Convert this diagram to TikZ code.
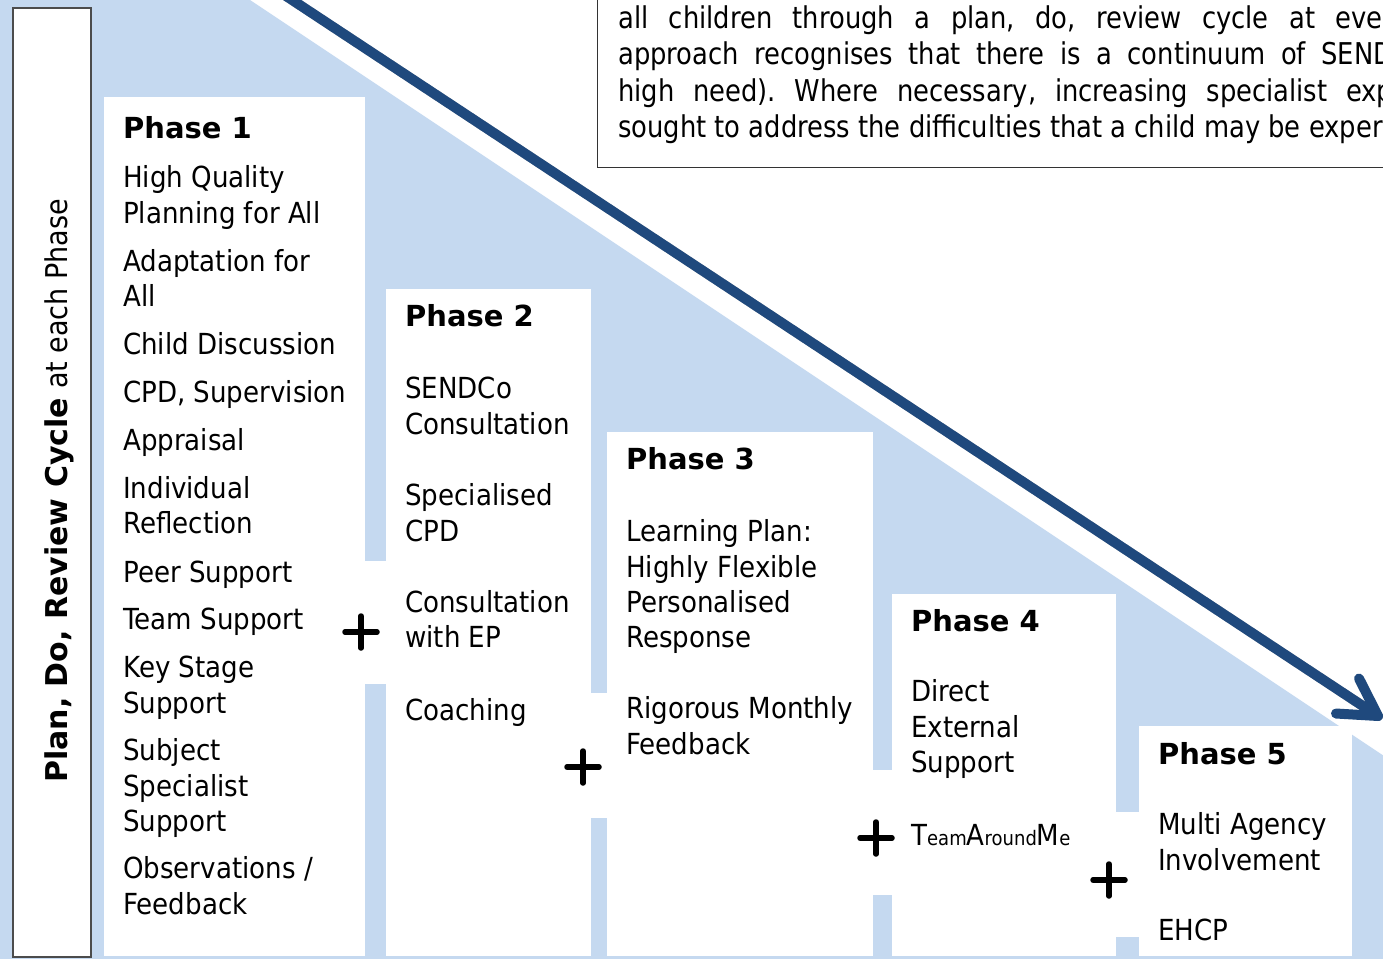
\documentclass[tikz,border=0pt]{standalone}
\usepackage{fontspec}
\newfontfamily\bodyfont[FakeStretch=0.9]{DejaVu Sans}
\newfontfamily\headfont{DejaVu Sans}
\newfontfamily\notefont[FakeStretch=0.86]{DejaVu Sans}
\usetikzlibrary{calc}
\definecolor{sendblue}{RGB}{197,217,240}
\definecolor{arrowblue}{RGB}{31,73,125}
\newcommand{\lowpart}[1]{{\fontsize{20}{24}\selectfont #1}}
\tikzset{
  phase_box/.style = {fill=white, draw=none, inner sep=0pt, anchor=north west},
  phase_head/.style = {anchor=base west, inner sep=0pt,
    font=\headfont\bfseries\fontsize{29}{35}\selectfont},
  phase_item/.style = {anchor=base west, inner sep=0pt,
    font=\bodyfont\fontsize{29}{35}\selectfont},
  note_line/.style = {anchor=base west, inner sep=0pt,
    font=\notefont\frenchspacing\fontsize{30}{36}\selectfont},
  plus_mark/.style = {line width=5.5pt, line cap=round},
  big_arrow/.style = {arrowblue, line width=10pt, line cap=round, line join=round}}

\begin{document}
\begin{tikzpicture}[x=1pt, y=-1pt]
\useasboundingbox (0,0) rectangle (1383,958);
\clip (0,0) rectangle (1383,958);

\fill[sendblue] (-5,-5) -- (242.5,-5) -- (1390,760) -- (1390,965) -- (-5,965) -- cycle;

% the note at the top
\draw[fill=white, draw=black!80, line width=1pt] (597,-10) rectangle (1400,167);
\node[note_line] (note1) at (618,29) {\makebox[775pt][s]{all children through a plan, do, review cycle at ever}};
\node[note_line] (note2) at (618,65) {\makebox[775pt][s]{approach recognises that there is a continuum of SEND}};
\node[note_line] (note3) at (618,101) {\makebox[775pt][s]{high need). Where necessary, increasing specialist exp}};
\node[note_line] (note4) at (618,137) {sought to address the difficulties that a child may be exper};

% arrow
\coordinate (arrowstart) at (277,-10);
\coordinate (arrowtip) at (1378,716);
\begin{scope}[shift={(3,4)}]
\draw[big_arrow, black, opacity=0.25] (arrowstart) -- (arrowtip);
\end{scope}
\draw[big_arrow] (arrowstart) -- (arrowtip);
\draw[big_arrow] ($(arrowtip)+(-19,-37.5)$) -- (arrowtip) -- ($(arrowtip)+(-42,-2.5)$);

% cycle label
\draw[fill=white, draw=black!70, line width=1.2pt] (13,8) rectangle (91,957);
\node[rotate=90, anchor=base west, inner sep=0pt] (cycle) at (67,783)
  {\fontsize{30}{36}\selectfont{\headfont\bfseries Plan, Do, Review Cycle} {\bodyfont at each Phase}};

% phases
\node[phase_box, minimum width=261, minimum height=859] (phase1) at (104,97) {};
\node[phase_box, minimum width=205, minimum height=667] (phase2) at (386,289) {};
\node[phase_box, minimum width=266, minimum height=524] (phase3) at (607,432) {};
\node[phase_box, minimum width=224, minimum height=362] (phase4) at (892,594) {};
\node[phase_box, minimum width=213, minimum height=230] (phase5) at (1139,726) {};

\fill[white] (365,561) rectangle (386,684);
\fill[white] (591,693) rectangle (607,818);
\fill[white] (873,770) rectangle (892,895);
\fill[white] (1116,812) rectangle (1139,937);

\node[phase_head] (head1) at (123,138) {Phase 1};
\foreach \yy/\txt [count=\i] in {187/High Quality, 223/Planning for All,
    271/Adaptation for, 306/All, 354/Child Discussion, 402/{CPD, Supervision},
    450/Appraisal, 498/Individual, 533/Reflection, 582/Peer Support,
    629/Team Support, 677/Key Stage, 713/Support, 760/Subject,
    796/Specialist, 831/Support, 878/{Observations /}, 914/Feedback}
  \node[phase_item] (one-\i) at (123,\yy) {\txt};

\node[phase_head] (head2) at (405,326) {Phase 2};
\foreach \yy/\txt [count=\i] in {398/SENDCo, 434/Consultation, 505/Specialised,
    541/CPD, 612/Consultation, 647/with EP, 720/Coaching}
  \node[phase_item] (two-\i) at (405,\yy) {\txt};

\node[phase_head] (head3) at (626,469) {Phase 3};
\foreach \yy/\txt [count=\i] in {541/Learning Plan:, 577/Highly Flexible,
    612/Personalised, 647/Response, 718/Rigorous Monthly, 754/Feedback}
  \node[phase_item] (three-\i) at (626,\yy) {\txt};

\node[phase_head] (head4) at (911,631) {Phase 4};
\foreach \yy/\txt [count=\i] in {701/Direct, 737/External, 772/Support}
  \node[phase_item] (four-\i) at (911,\yy) {\txt};
\node[phase_item] (tam) at (911,845) {T\lowpart{eam}A\lowpart{round}M\lowpart{e}};

\node[phase_head] (head5) at (1158,764) {Phase 5};
\foreach \yy/\txt [count=\i] in {834/Multi Agency, 870/Involvement, 940/EHCP}
  \node[phase_item] (five-\i) at (1158,\yy) {\txt};

\foreach \px/\py in {361/632, 583/767, 876/838, 1109/880}
  \draw[plus_mark] (\px-16,\py) -- (\px+16,\py) (\px,\py-16) -- (\px,\py+16);

\end{tikzpicture}
\end{document}
